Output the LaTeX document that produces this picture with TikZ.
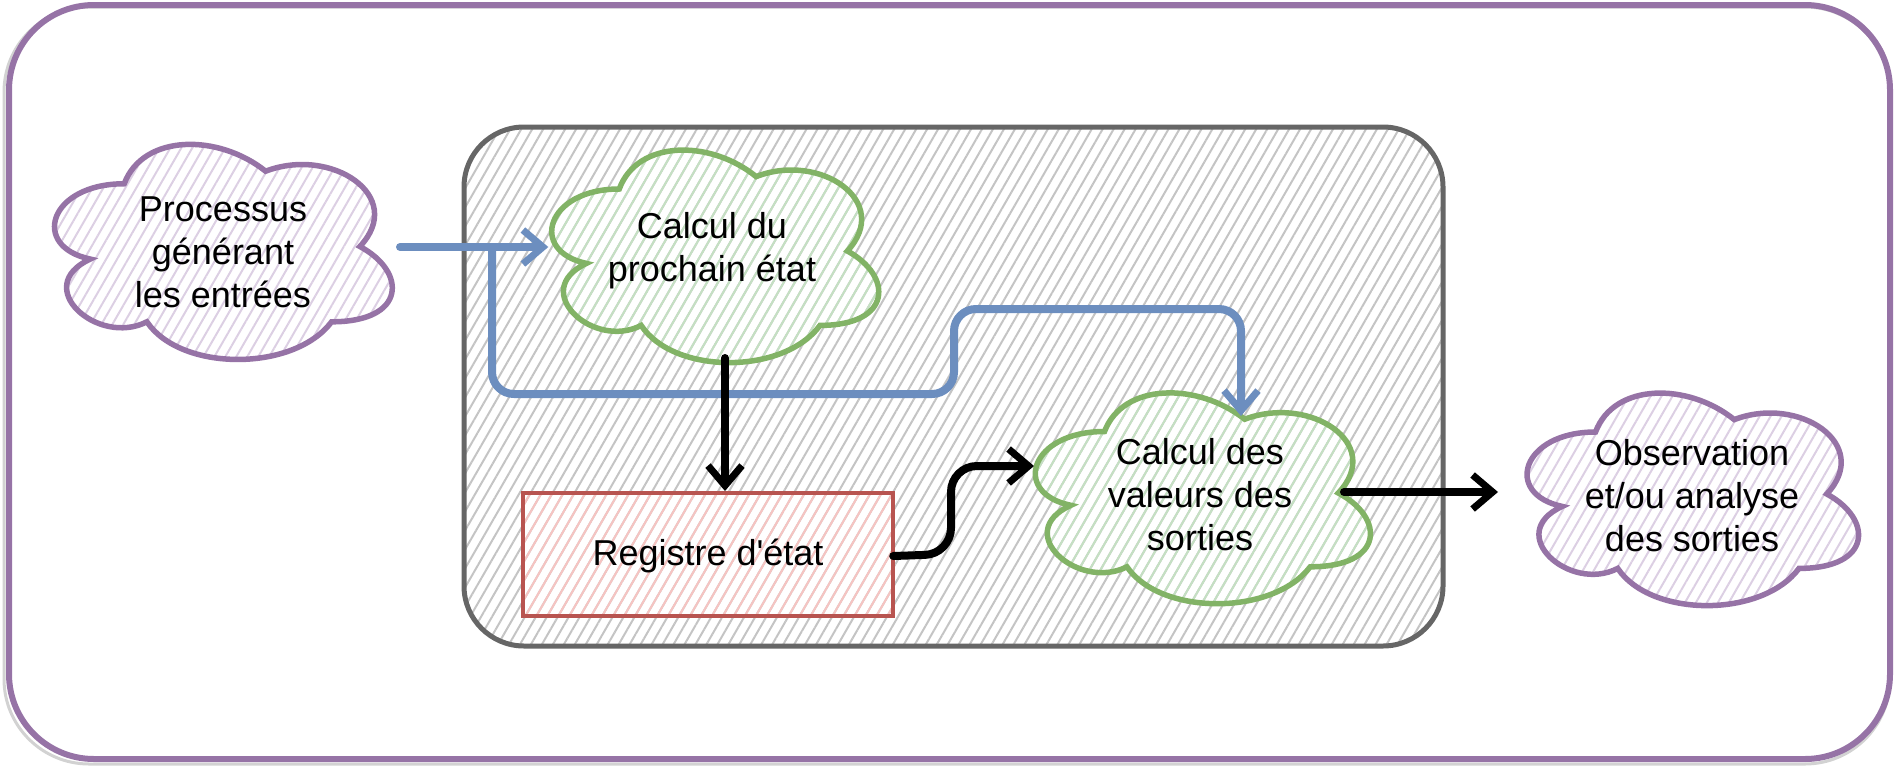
\documentclass[tikz,border=0pt]{standalone}
\usepackage{fontspec}
\newfontfamily\lib{Liberation Sans}
\usetikzlibrary{arrows.meta,patterns.meta}
\definecolor{cpurple}{HTML}{9673A6}
\definecolor{hpurple}{HTML}{DCCFE3}
\definecolor{cgreen}{HTML}{82B366}
\definecolor{hgreen}{HTML}{C5E0C3}
\definecolor{cred}{HTML}{B85450}
\definecolor{hred}{HTML}{F6C4C2}
\definecolor{cblue}{HTML}{6C8EBF}
\definecolor{cgray}{HTML}{666666}
\definecolor{hgray}{HTML}{C4C4C4}
\newcommand\drawcloud[5]{%
\begin{scope}[shift={(#2,#3)},xscale=#4,yscale=#5]
\path[#1] (0.25,0.25) .. controls (0.05,0.25) and (0,0.5) .. (0.16,0.55)
 .. controls (0,0.66) and (0.18,0.9) .. (0.31,0.8)
 .. controls (0.4,1) and (0.7,1) .. (0.8,0.8)
 .. controls (1,0.8) and (1,0.6) .. (0.875,0.5)
 .. controls (1,0.3) and (0.8,0.1) .. (0.625,0.2)
 .. controls (0.5,0.05) and (0.3,0.05) .. (0.25,0.25) -- cycle;
\end{scope}}
\tikzset{
  hatch/.style={pattern={Lines[angle=60,distance=9.5pt,line width=2pt]},pattern color=#1},
  purplecloud/.style={draw=cpurple,line width=5.5pt,hatch=hpurple},
  greencloud/.style={draw=cgreen,line width=5.5pt,hatch=hgreen},
  txt/.style={font=\lib\fontsize{36pt}{43pt}\selectfont,align=center,inner sep=0pt},
  conn/.style={line width=8pt,line cap=round,line join=round,-{Straight Barb[length=20pt,width=34pt,line width=7pt]}},
  blueconn/.style={conn,draw=cblue},
  blackconn/.style={conn,draw=black},
}
\begin{document}
\begin{tikzpicture}[x=1pt,y=-1pt]
\useasboundingbox (0,0) rectangle (1897,766);
% outer frame
\draw[gray!35,line width=3pt,rounded corners=85pt] (4,7) rectangle (1890,764);
\draw[cpurple,line width=6pt,rounded corners=85pt] (9,5) rectangle (1890,759);
% inner box
\draw[draw=cgray,line width=5pt,rounded corners=60pt,hatch=hgray] (464,127) rectangle (1443,646);
% clouds
\drawcloud{purplecloud}{30}{121}{377}{251}
\drawcloud{greencloud}{528}{127}{365}{248}
\drawcloud{greencloud}{1011}{370}{374}{246}
\drawcloud{purplecloud}{1503}{370}{370}{248}
% register
\draw[draw=cred,line width=4.5pt,hatch=hred] (523,493) rectangle (893,616);
% nodes
\node[txt,minimum width=337pt,minimum height=215pt] (src) at (223,252) {Processus\\générant\\les entrées};
\node[txt,minimum width=327pt,minimum height=212pt] (c2) at (712,251) {Calcul du\\prochain état};
\node[txt,minimum width=335pt,minimum height=211pt] (c3) at (1200,495) {Calcul des\\valeurs des\\sorties};
\node[txt,minimum width=331pt,minimum height=212pt] (c4) at (1692,496) {Observation\\et/ou analyse\\des sorties};
\node[txt,minimum width=370pt,minimum height=123pt] (reg) at (708,556) {Registre d'état};
% coordinates
\coordinate (in) at (400,247);
\coordinate (split) at (492,247);
\coordinate (b1) at (492,394);
\coordinate (b2) at (954,394);
\coordinate (b3) at (954,309);
\coordinate (b4) at (1241,309);
\coordinate (c3top) at (1241,416);
\coordinate (c2bot) at (725,358);
\coordinate (regtop) at (725,491);
\coordinate (r1) at (951,554);
\coordinate (r2) at (951,466);
\coordinate (c3left) at (1034,466);
\coordinate (c3right) at (1344,492);
\coordinate (c4left) at (1498,492);
% connectors
\draw[blueconn] (in) -- (in -| c2.west);
\draw[blueconn,rounded corners=22pt] (split) -- (b1) -- (b2) -- (b3) -- (b4) -- (c3top);
\draw[blackconn] (c2bot) -- (regtop);
\draw[blackconn,rounded corners=26pt] (reg.east) -- (r1) -- (r2) -- (c3left);
\draw[blackconn] (c3right) -- (c4left);
\end{tikzpicture}
\end{document}
